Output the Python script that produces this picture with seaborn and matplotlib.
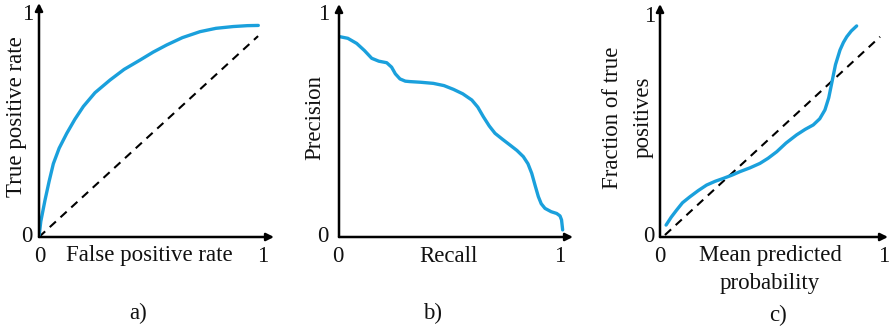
import matplotlib
matplotlib.use("Agg")
import matplotlib.pyplot as plt
import seaborn as sns
import pandas as pd

sns.set_style("white")
plt.rcParams['font.family'] = ['Liberation Serif', 'DejaVu Serif']

# ROC curve
roc_fpr = [0.0, 0.008, 0.027, 0.045, 0.064, 0.09, 0.124, 0.16, 0.198, 0.25, 0.317, 0.38, 0.451, 0.51, 0.570, 0.64, 0.719, 0.79, 0.867, 0.93, 0.979]
roc_tpr = [0.0, 0.07, 0.167, 0.25, 0.33, 0.40, 0.467, 0.53, 0.588, 0.65, 0.707, 0.755, 0.797, 0.833, 0.865, 0.898, 0.925, 0.94, 0.948, 0.952, 0.953]
roc_diag_x = [0.0, 0.978]
roc_diag_y = [0.0, 0.905]

# Precision-recall curve
pr_recall = [0.005, 0.04, 0.08, 0.115, 0.148, 0.18, 0.216, 0.238, 0.255, 0.276, 0.30, 0.321, 0.37, 0.427, 0.475, 0.518, 0.56, 0.601, 0.628, 0.653, 0.68, 0.706, 0.74, 0.774, 0.805, 0.834, 0.855, 0.872, 0.888, 0.902, 0.915, 0.932, 0.96, 0.985, 1.0, 1.007, 1.012]
pr_precision = [0.902, 0.895, 0.872, 0.84, 0.805, 0.792, 0.785, 0.765, 0.735, 0.712, 0.702, 0.70, 0.697, 0.692, 0.682, 0.665, 0.645, 0.617, 0.585, 0.542, 0.50, 0.467, 0.44, 0.414, 0.39, 0.362, 0.33, 0.287, 0.23, 0.182, 0.15, 0.129, 0.114, 0.106, 0.095, 0.077, 0.032]

# Calibration curve
cal_pred = [0.027, 0.05, 0.074, 0.10, 0.133, 0.17, 0.207, 0.245, 0.281, 0.32, 0.356, 0.40, 0.444, 0.48, 0.519, 0.56, 0.607, 0.645, 0.681, 0.71, 0.733, 0.75, 0.763, 0.78, 0.80, 0.815, 0.83, 0.85, 0.874]
cal_true = [0.054, 0.09, 0.122, 0.155, 0.182, 0.21, 0.235, 0.252, 0.265, 0.28, 0.296, 0.313, 0.333, 0.356, 0.386, 0.425, 0.462, 0.487, 0.507, 0.535, 0.575, 0.63, 0.695, 0.78, 0.846, 0.88, 0.906, 0.932, 0.955]
cal_diag_x = [0.022, 0.978]
cal_diag_y = [0.009, 0.906]

BLUE = "#1aa0dc"
W, H = 889, 330
FS = 16.5

fig = plt.figure(figsize=(W / 100, H / 100), dpi=100)


def panel(px0, px1, py0, py1, tip_x, tip_y):
    sx = px1 - px0
    sy = py0 - py1
    left = px0 / W
    bottom = 1 - py0 / H
    width = (tip_x - px0) / W
    height = (py0 - tip_y) / H
    ax = fig.add_axes([left, bottom, width, height])
    ax.set_xlim(0, (tip_x - px0) / sx)
    ax.set_ylim(0, (py0 - tip_y) / sy)
    ax.axis("off")
    for xy in [(1, 0), (0, 1)]:
        ax.annotate("", xy=xy, xytext=(0, 0), xycoords="axes fraction",
                    arrowprops=dict(arrowstyle="-|>", color="black", lw=1.8,
                                    mutation_scale=11, shrinkA=0, shrinkB=0))
    return ax, sx, sy


def ptext(ax, px0, py0, sx, sy, x, y, s, **kw):
    # place text at absolute pixel position (x, y)
    ax.text((x - px0) / sx, (py0 - y) / sy, s, fontsize=FS, ha="center",
            va="center", clip_on=False, color="#111111", **kw)


# Panel a
ax, sx, sy = panel(39, 263, 237, 15, 274, 3)
sns.lineplot(x=roc_diag_x, y=roc_diag_y, ax=ax, color="black", lw=1.5,
             linestyle=(0, (4, 3)))
sns.lineplot(x=roc_fpr, y=roc_tpr, ax=ax, color=BLUE, lw=2.4, sort=False)
ptext(ax, 39, 237, sx, sy, 27, 237, "0")
ptext(ax, 39, 237, sx, sy, 28, 15, "1")
ptext(ax, 39, 237, sx, sy, 40, 256, "0")
ptext(ax, 39, 237, sx, sy, 263, 256, "1")
ptext(ax, 39, 237, sx, sy, 149, 256, "False positive rate")
ptext(ax, 39, 237, sx, sy, 17, 117, "True positive rate", rotation=90)
ptext(ax, 39, 237, sx, sy, 138, 313, "a)")

# Panel b
ax, sx, sy = panel(339, 560, 237, 15, 573, 4)
sns.lineplot(x=pr_recall, y=pr_precision, ax=ax, color=BLUE, lw=2.4, sort=False)
ptext(ax, 339, 237, sx, sy, 323, 237, "0")
ptext(ax, 339, 237, sx, sy, 324, 15, "1")
ptext(ax, 339, 237, sx, sy, 338, 256, "0")
ptext(ax, 339, 237, sx, sy, 560, 256, "1")
ptext(ax, 339, 237, sx, sy, 448, 256, "Recall")
ptext(ax, 339, 237, sx, sy, 315, 118, "Precision", rotation=90)
ptext(ax, 339, 237, sx, sy, 433, 313, "b)")

# Panel c
ax, sx, sy = panel(660, 885, 237, 16, 888, 4)
sns.lineplot(x=cal_diag_x, y=cal_diag_y, ax=ax, color="black", lw=1.5,
             linestyle=(0, (4, 3)))
sns.lineplot(x=cal_pred, y=cal_true, ax=ax, color=BLUE, lw=2.4, sort=False)
ptext(ax, 660, 237, sx, sy, 649, 237, "0")
ptext(ax, 660, 237, sx, sy, 650, 16, "1")
ptext(ax, 660, 237, sx, sy, 660, 256, "0")
ptext(ax, 660, 237, sx, sy, 884, 256, "1")
ptext(ax, 660, 237, sx, sy, 770, 256, "Mean predicted")
ptext(ax, 660, 237, sx, sy, 770, 283, "probability")
ptext(ax, 660, 237, sx, sy, 612, 118, "Fraction of true", rotation=90)
ptext(ax, 660, 237, sx, sy, 643, 117, "positives", rotation=90)
ptext(ax, 660, 237, sx, sy, 778, 315, "c)")

fig.savefig("out.png", dpi=100, facecolor="white")
